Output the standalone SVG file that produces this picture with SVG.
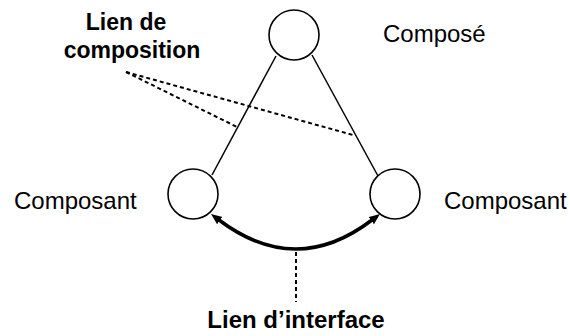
<svg xmlns="http://www.w3.org/2000/svg" width="570" height="336" viewBox="0 0 570 336">
<style>
.node{fill:#fff;stroke:#000;stroke-width:1.6}
.solid{fill:none;stroke:#000;stroke-width:1.5}
.dash{fill:none;stroke:#000;stroke-width:2;stroke-dasharray:4 3}
.thick{fill:none;stroke:#000;stroke-width:3.6}
.lbl{font-family:"Liberation Sans",Arial,sans-serif;font-size:24px;fill:#000}
.bold{font-weight:bold}
</style>
<defs>
<marker id="arr" markerUnits="userSpaceOnUse" markerWidth="12" markerHeight="10" refX="1" refY="4.5" orient="auto-start-reverse">
<path d="M0,0 L11,4.5 L0,9 z" fill="#000"/>
</marker>
</defs>
<g id="connectors">
<line class="solid" x1="276" y1="56" x2="212" y2="175"/>
<line class="solid" x1="312" y1="55" x2="378" y2="176"/>
<path class="thick" d="M219,220 Q296,278 372,220" marker-start="url(#arr)" marker-end="url(#arr)"/>
<line class="dash" x1="126" y1="72" x2="237" y2="127"/>
<line class="dash" x1="126" y1="72" x2="353" y2="135"/>
<line class="dash" x1="296" y1="252" x2="296" y2="302"/>
</g>
<g id="compose">
<circle class="node" cx="294" cy="35" r="25"/>
<text class="lbl" x="383" y="42">Composé</text>
</g>
<g id="composant-gauche">
<circle class="node" cx="193" cy="194" r="25"/>
<text class="lbl" x="14" y="209">Composant</text>
</g>
<g id="composant-droite">
<circle class="node" cx="395" cy="194" r="25"/>
<text class="lbl" x="444" y="209">Composant</text>
</g>
<g id="label-composition">
<text class="lbl bold" style="font-size:23px" x="126" y="30" text-anchor="middle">Lien de</text>
<text class="lbl bold" style="font-size:23px" x="132" y="58" text-anchor="middle">composition</text>
</g>
<g id="label-interface">
<text class="lbl bold" x="296" y="328" text-anchor="middle">Lien d’interface</text>
</g>
</svg>
